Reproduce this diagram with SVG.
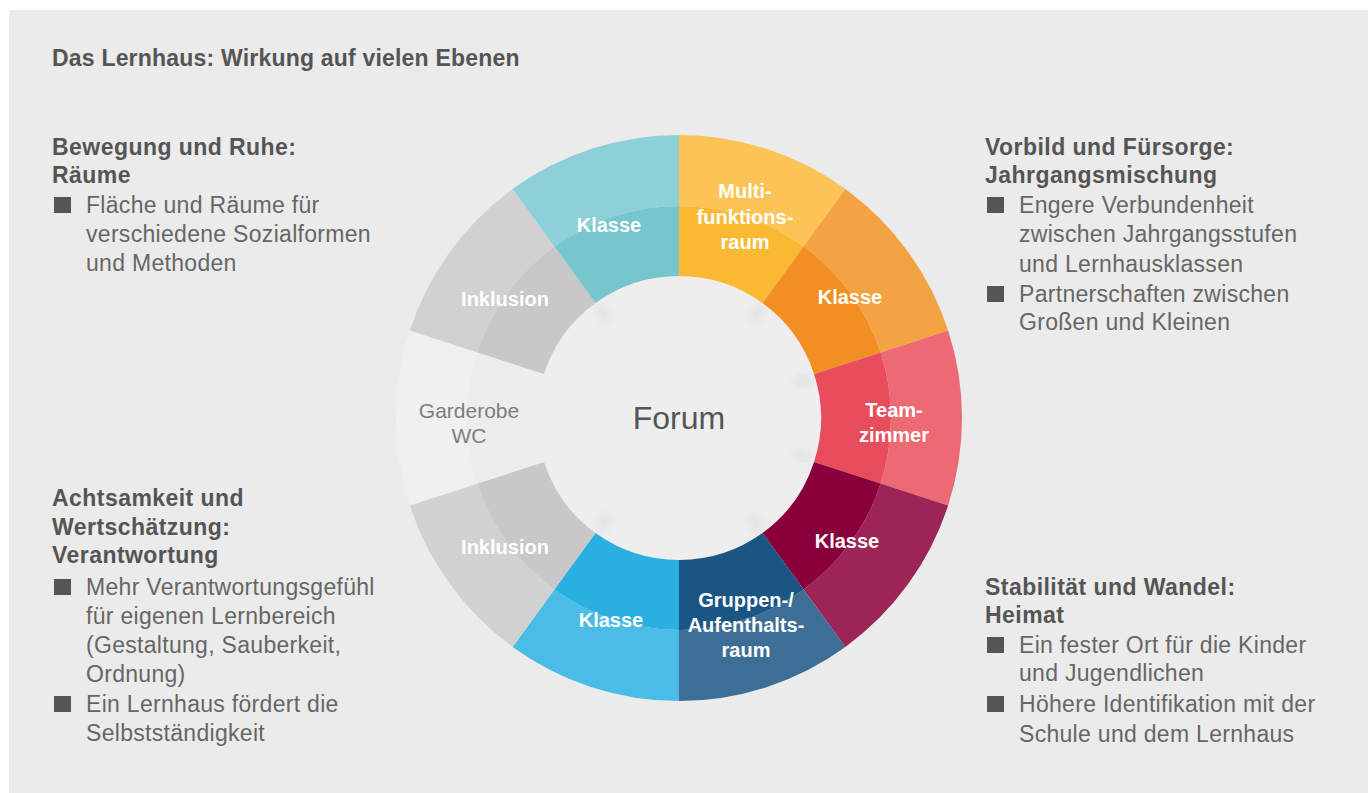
<svg xmlns="http://www.w3.org/2000/svg" width="1368" height="793" viewBox="0 0 1368 793">
<style>
.h{font-family:"Liberation Sans",Arial,sans-serif;font-weight:bold;font-size:23px;letter-spacing:0.45px;fill:#555}
.t{font-family:"Liberation Sans",Arial,sans-serif;font-weight:bold;font-size:23px;letter-spacing:0.2px;fill:#555}
.b{font-family:"Liberation Sans",Arial,sans-serif;font-size:23px;letter-spacing:0.3px;fill:#666}
.sq{fill:#555}
.lab{font-family:"Liberation Sans",Arial,sans-serif;font-weight:bold;font-size:20px;fill:#fff;text-anchor:middle}
.gl{font-family:"Liberation Sans",Arial,sans-serif;font-size:21px;fill:#7d7d7d;text-anchor:middle}
.fo{font-family:"Liberation Sans",Arial,sans-serif;font-size:32px;fill:#555;text-anchor:middle}
.sh{stroke:#c4c4c4;stroke-width:9;opacity:.35;filter:url(#blur)}
</style>
<defs>
<filter id="blur" x="-100%" y="-100%" width="300%" height="300%"><feGaussianBlur stdDeviation="4"/></filter>
</defs>
<rect x="0" y="0" width="1368" height="793" fill="#fff"/>
<rect x="9" y="10" width="1359" height="783" fill="#ebebeb"/>

<g id="forum">
<circle cx="679" cy="418" r="143" fill="#eeeeee"/>
<text class="fo" x="679" y="429">Forum</text>
</g>

<g id="seg-multifunktionsraum">
<path d="M679,135 A283,283 0 0 1 845.34,189.05 L803.61,246.49 A212,212 0 0 0 679,206 Z" fill="#fcc455"/>
<path d="M679,206 A212,212 0 0 1 803.61,246.49 L762.47,303.12 A142,142 0 0 0 679,276 Z" fill="#f9b933"/>
<text class="lab" x="745" y="198">Multi-</text>
<text class="lab" x="745" y="224">funktions-</text>
<text class="lab" x="745" y="249">raum</text>
</g>
<g id="seg-klasse-orange">
<path d="M845.34,189.05 A283,283 0 0 1 948.15,330.55 L880.62,352.49 A212,212 0 0 0 803.61,246.49 Z" fill="#f4a342"/>
<path d="M803.61,246.49 A212,212 0 0 1 880.62,352.49 L814.05,374.12 A142,142 0 0 0 762.47,303.12 Z" fill="#f28f22"/>
<text class="lab" x="850" y="304">Klasse</text>
</g>
<g id="seg-teamzimmer">
<path d="M948.15,330.55 A283,283 0 0 1 948.15,505.45 L880.62,483.51 A212,212 0 0 0 880.62,352.49 Z" fill="#ec6a73"/>
<path d="M880.62,352.49 A212,212 0 0 1 880.62,483.51 L814.05,461.88 A142,142 0 0 0 814.05,374.12 Z" fill="#e84d5b"/>
<text class="lab" x="894" y="417">Team-</text>
<text class="lab" x="894" y="442">zimmer</text>
</g>
<g id="seg-klasse-crimson">
<path d="M948.15,505.45 A283,283 0 0 1 845.34,646.95 L803.61,589.51 A212,212 0 0 0 880.62,483.51 Z" fill="#9c2556"/>
<path d="M880.62,483.51 A212,212 0 0 1 803.61,589.51 L762.47,533.12 A142,142 0 0 0 814.05,461.88 Z" fill="#89003b"/>
<text class="lab" x="847" y="548">Klasse</text>
</g>
<g id="seg-gruppenraum">
<path d="M845.34,646.95 A283,283 0 0 1 679,701 L679,630 A212,212 0 0 0 803.61,589.51 Z" fill="#3c6e96"/>
<path d="M803.61,589.51 A212,212 0 0 1 679,630 L679,560 A142,142 0 0 0 762.47,533.12 Z" fill="#1b5583"/>
<text class="lab" x="746" y="607">Gruppen-/</text>
<text class="lab" x="746" y="632">Aufenthalts-</text>
<text class="lab" x="746" y="657">raum</text>
</g>
<g id="seg-klasse-blue">
<path d="M679,701 A283,283 0 0 1 512.66,646.95 L554.39,589.51 A212,212 0 0 0 679,630 Z" fill="#4abce6"/>
<path d="M679,630 A212,212 0 0 1 554.39,589.51 L595.53,533.12 A142,142 0 0 0 679,560 Z" fill="#29b0e0"/>
<text class="lab" x="611" y="627">Klasse</text>
</g>
<g id="seg-inklusion-lower">
<path d="M512.66,646.95 A283,283 0 0 1 409.85,505.45 L477.38,483.51 A212,212 0 0 0 554.39,589.51 Z" fill="#d0d1d0"/>
<path d="M554.39,589.51 A212,212 0 0 1 477.38,483.51 L543.95,461.88 A142,142 0 0 0 595.53,533.12 Z" fill="#c7c8c7"/>
<text class="lab" x="505" y="554">Inklusion</text>
</g>
<g id="seg-garderobe">
<path d="M409.85,505.45 A283,283 0 0 1 409.85,330.55 L477.38,352.49 A212,212 0 0 0 477.38,483.51 Z" fill="#f0f0f0"/>
<path d="M477.38,483.51 A212,212 0 0 1 477.38,352.49 L543.95,374.12 A142,142 0 0 0 543.95,461.88 Z" fill="#ededed"/>
<text class="gl" x="469" y="418">Garderobe</text>
<text class="gl" x="469" y="443">WC</text>
</g>
<g id="seg-inklusion-upper">
<path d="M409.85,330.55 A283,283 0 0 1 512.66,189.05 L554.39,246.49 A212,212 0 0 0 477.38,352.49 Z" fill="#d0d1d0"/>
<path d="M477.38,352.49 A212,212 0 0 1 554.39,246.49 L595.53,303.12 A142,142 0 0 0 543.95,374.12 Z" fill="#c7c8c7"/>
<text class="lab" x="505" y="306">Inklusion</text>
</g>
<g id="seg-klasse-teal">
<path d="M512.66,189.05 A283,283 0 0 1 679,135 L679,206 A212,212 0 0 0 554.39,246.49 Z" fill="#8dd0d7"/>
<path d="M554.39,246.49 A212,212 0 0 1 679,206 L679,276 A142,142 0 0 0 595.53,303.12 Z" fill="#77c6ce"/>
<text class="lab" x="609" y="232">Klasse</text>
</g>

<g id="connectors">
<line class="sh" x1="683" y1="280" x2="683" y2="296"/>
<line class="sh" x1="761" y1="308" x2="752" y2="321"/>
<line class="sh" x1="810" y1="378" x2="795" y2="383"/>
<line class="sh" x1="810" y1="458" x2="795" y2="453"/>
<line class="sh" x1="759" y1="529" x2="750" y2="516"/>
<line class="sh" x1="683" y1="556" x2="683" y2="540"/>
<line class="sh" x1="599" y1="529" x2="608" y2="516"/>
<line class="sh" x1="599" y1="307" x2="608" y2="320"/>
</g>

<g id="title">
<text class="t" x="52" y="66">Das Lernhaus: Wirkung auf vielen Ebenen</text>
</g>

<g id="sec-bewegung">
<text class="h" x="52" y="155">Bewegung und Ruhe:</text>
<text class="h" x="52" y="183">Räume</text>
<rect class="sq" x="54" y="197" width="17" height="16"/>
<text class="b" x="86" y="213">Fläche und Räume für</text>
<text class="b" x="86" y="242">verschiedene Sozialformen</text>
<text class="b" x="86" y="271">und Methoden</text>
</g>

<g id="sec-achtsamkeit">
<text class="h" x="52" y="506">Achtsamkeit und</text>
<text class="h" x="52" y="535">Wertschätzung:</text>
<text class="h" x="52" y="563">Verantwortung</text>
<rect class="sq" x="54" y="579" width="17" height="16"/>
<text class="b" x="86" y="595">Mehr Verantwortungsgefühl</text>
<text class="b" x="86" y="624">für eigenen Lernbereich</text>
<text class="b" x="86" y="653">(Gestaltung, Sauberkeit,</text>
<text class="b" x="86" y="682">Ordnung)</text>
<rect class="sq" x="54" y="696" width="17" height="16"/>
<text class="b" x="86" y="712">Ein Lernhaus fördert die</text>
<text class="b" x="86" y="741">Selbstständigkeit</text>
</g>

<g id="sec-vorbild">
<text class="h" x="985" y="155">Vorbild und Fürsorge:</text>
<text class="h" x="985" y="183">Jahrgangsmischung</text>
<rect class="sq" x="987" y="197" width="17" height="16"/>
<text class="b" x="1019" y="213">Engere Verbundenheit</text>
<text class="b" x="1019" y="242">zwischen Jahrgangsstufen</text>
<text class="b" x="1019" y="272">und Lernhausklassen</text>
<rect class="sq" x="987" y="286" width="17" height="16"/>
<text class="b" x="1019" y="302">Partnerschaften zwischen</text>
<text class="b" x="1019" y="330">Großen und Kleinen</text>
</g>

<g id="sec-stabilitaet">
<text class="h" x="985" y="595">Stabilität und Wandel:</text>
<text class="h" x="985" y="623">Heimat</text>
<rect class="sq" x="987" y="637" width="17" height="16"/>
<text class="b" x="1019" y="653">Ein fester Ort für die Kinder</text>
<text class="b" x="1019" y="681">und Jugendlichen</text>
<rect class="sq" x="987" y="696" width="17" height="16"/>
<text class="b" x="1019" y="712">Höhere Identifikation mit der</text>
<text class="b" x="1019" y="742">Schule und dem Lernhaus</text>
</g>
</svg>
